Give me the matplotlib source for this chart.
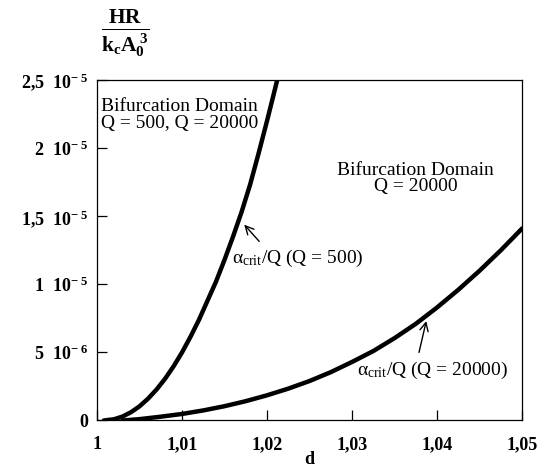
from matplotlib import pyplot as plt
import matplotlib

matplotlib.rcParams['font.family'] = ['Liberation Serif', 'DejaVu Serif']
matplotlib.rcParams['mathtext.fontset'] = 'custom'
matplotlib.rcParams['mathtext.rm'] = 'Liberation Serif'
matplotlib.rcParams['mathtext.it'] = 'Liberation Serif:italic'
matplotlib.rcParams['mathtext.bf'] = 'Liberation Serif:bold'

# curve for Q = 500
d_q500 = [1.0008, 1.002, 1.003, 1.004, 1.005, 1.006, 1.007, 1.008, 1.009,
          1.010, 1.011, 1.012, 1.013, 1.014, 1.015, 1.016, 1.017, 1.018,
          1.019, 1.020, 1.021, 1.0212]
h_q500 = [0.0, 0.09e-6, 0.29e-6, 0.61e-6, 1.04e-6, 1.6e-6, 2.27e-6, 3.06e-6,
          3.97e-6, 5.0e-6, 6.15e-6, 7.4e-6, 8.8e-6, 10.2e-6, 11.8e-6,
          13.5e-6, 15.3e-6, 17.3e-6, 19.6e-6, 22.0e-6, 24.5e-6, 25.0e-6]

# curve for Q = 20000
d_q20000 = [1.003, 1.005, 1.0075, 1.01, 1.0125, 1.015, 1.0175, 1.02, 1.0225,
            1.025, 1.0275, 1.03, 1.0325, 1.035, 1.0375, 1.04, 1.0425, 1.045,
            1.0475, 1.05]
h_q20000 = [0.0, 0.1e-6, 0.28e-6, 0.48e-6, 0.74e-6, 1.05e-6, 1.42e-6,
            1.85e-6, 2.34e-6, 2.9e-6, 3.55e-6, 4.3e-6, 5.1e-6, 6.05e-6,
            7.1e-6, 8.3e-6, 9.6e-6, 11.0e-6, 12.5e-6, 14.1e-6]

xticks = [1.0, 1.01, 1.02, 1.03, 1.04, 1.05]
xticklabels = ["1", "1,01", "1,02", "1,03", "1,04", "1,05"]
yticks = [0, 5e-6, 1e-5, 1.5e-5, 2e-5, 2.5e-5]
yticklabels = ["0",
               r"5  $\mathbf{10^{-\ 6}}$",
               r"1  $\mathbf{10^{-\ 5}}$",
               r"1,5  $\mathbf{10^{-\ 5}}$",
               r"2  $\mathbf{10^{-\ 5}}$",
               r"2,5  $\mathbf{10^{-\ 5}}$"]

fig = plt.figure(figsize=(5.59, 4.68), dpi=100)
ax = fig.add_axes([0.1735, 0.1015, 0.7605, 0.7275])

ax.plot(d_q500, h_q500, c="black", lw=3.2, solid_capstyle="round")
ax.plot(d_q20000, h_q20000, c="black", lw=3.2, solid_capstyle="round")

ax.set_xlim(1.0, 1.05)
ax.set_ylim(0, 2.5e-5)
ax.set_xticks(xticks)
ax.set_xticklabels(xticklabels, fontweight="bold", fontsize=13)
ax.set_yticks(yticks)
ax.set_yticklabels(yticklabels, fontweight="bold", fontsize=13)
ax.tick_params(direction="in", length=7, width=0.9, pad=11)
ax.tick_params(axis="y", pad=6)
for s in ax.spines.values():
    s.set_linewidth(0.9)

ax.set_xlabel("d", fontweight="bold", fontsize=13, labelpad=-1)

# y label as a fraction above the axis
fig.text(0.224, 0.928,
         r"$\frac{\mathbf{HR}}{\mathbf{k}_\mathbf{c}\mathbf{A}_\mathbf{0}^{\ \mathbf{3}}}$",
         fontsize=22, ha="center", va="center")

# domain labels
ax.text(1.0097, 2.244e-5, "Bifurcation Domain\nQ = 500, Q = 20000",
        ha="center", va="center", fontsize=14, linespacing=0.95)
ax.text(1.0375, 1.775e-5, "Bifurcation Domain\nQ = 20000",
        ha="center", va="center", fontsize=14, linespacing=0.95)

# curve labels with arrows
ax.text(1.0159, 1.19e-5, r"α$_{\mathrm{crit}}$/Q (Q = 500)",
        ha="left", va="center", fontsize=14)
ax.annotate("", xy=(1.0171, 1.453e-5), xytext=(1.0193, 1.30e-5),
            arrowprops=dict(arrowstyle="->", lw=1.0, color="black",
                            mutation_scale=15))

ax.text(1.0306, 3.70e-6, r"α$_{\mathrm{crit}}$/Q (Q = 20000)",
        ha="left", va="center", fontsize=14)
ax.annotate("", xy=(1.0388, 7.5e-6), xytext=(1.0378, 4.8e-6),
            arrowprops=dict(arrowstyle="->", lw=1.0, color="black",
                            mutation_scale=15))

plt.savefig("out.png", dpi=100)
